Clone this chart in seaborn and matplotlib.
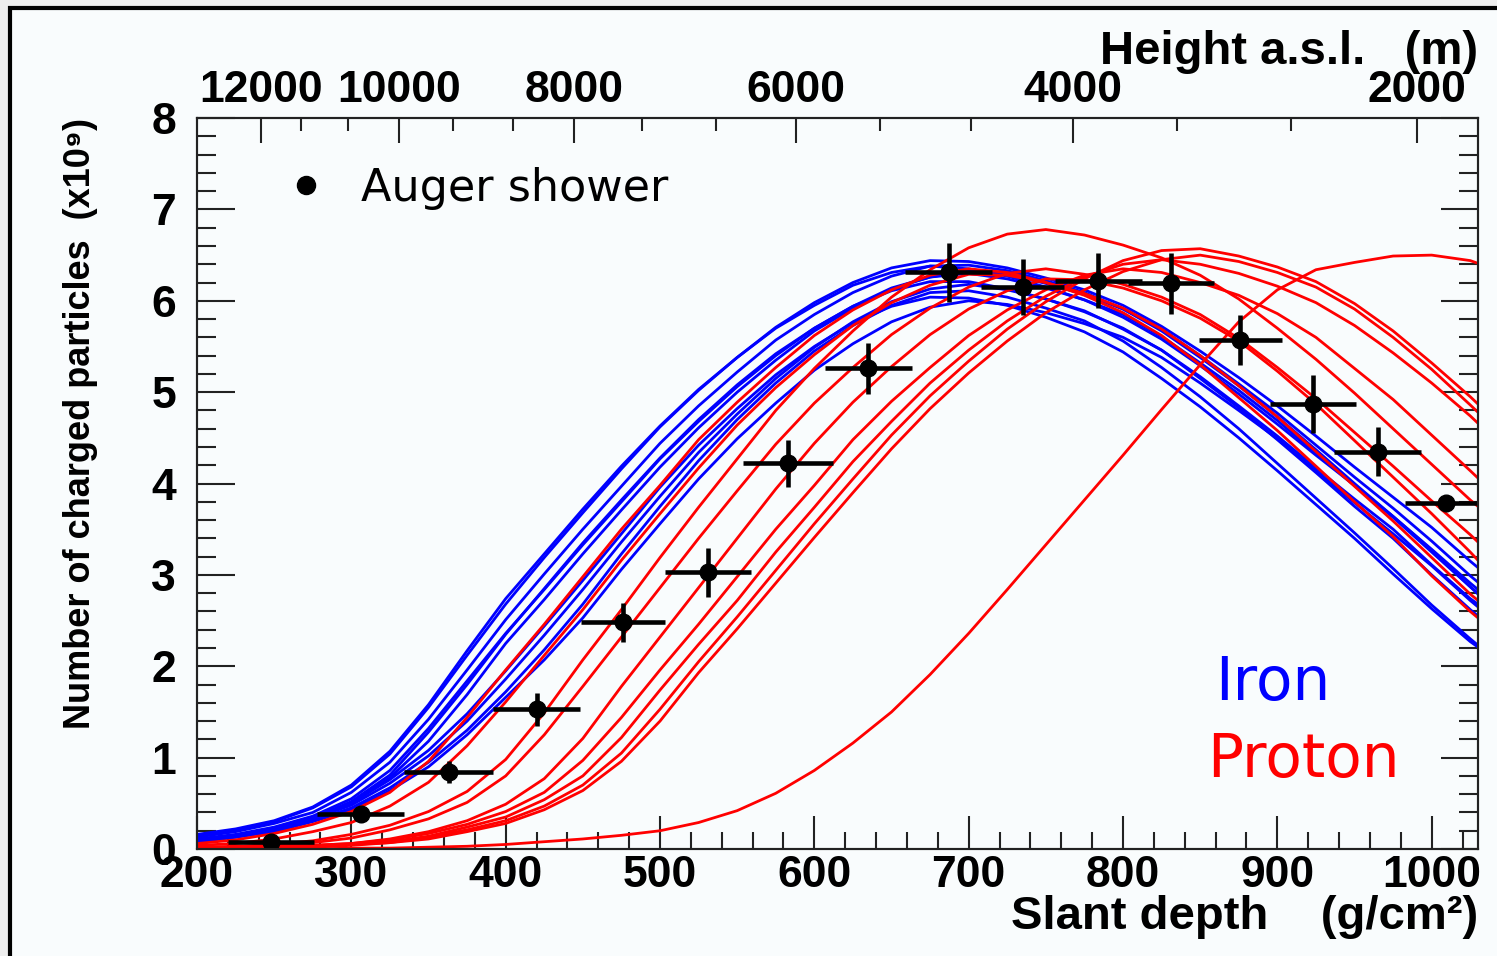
import numpy as np
import pandas as pd
import seaborn as sb
import matplotlib.pyplot as plt
from matplotlib.lines import Line2D
from matplotlib.patches import Rectangle
from matplotlib.ticker import MultipleLocator, FixedLocator

# slant depth grid (g/cm2) where the shower profiles were read
depth = [200, 225, 250, 275, 300, 325, 350, 375, 400, 425, 450, 475, 500, 525, 550, 575, 600, 625,
         650, 675, 700, 725, 750, 775, 800, 825, 850, 875, 900, 925, 950, 975, 1000, 1025, 1030]

# iron showers, number of charged particles (x1e9)
fe01 = [0.15, 0.21, 0.30, 0.45, 0.68, 1.04, 1.55, 2.12, 2.68, 3.19, 3.68, 4.16, 4.62, 5.02, 5.38, 5.71, 5.98, 6.20,
        6.36, 6.44, 6.43, 6.36, 6.25, 6.12, 5.95, 5.72, 5.45, 5.16, 4.85, 4.52, 4.18, 3.85, 3.52, 3.15, 3.08]
fe02 = [0.13, 0.19, 0.28, 0.40, 0.62, 0.95, 1.42, 1.96, 2.51, 3.01, 3.50, 3.97, 4.44, 4.85, 5.22, 5.57, 5.85, 6.09,
        6.27, 6.38, 6.39, 6.33, 6.22, 6.09, 5.91, 5.69, 5.40, 5.09, 4.77, 4.42, 4.07, 3.73, 3.37, 2.99, 2.92]
fe03 = [0.11, 0.16, 0.24, 0.36, 0.55, 0.86, 1.32, 1.84, 2.36, 2.84, 3.33, 3.80, 4.27, 4.68, 5.06, 5.40, 5.70, 5.94,
        6.14, 6.26, 6.30, 6.24, 6.14, 6.01, 5.85, 5.61, 5.32, 5.02, 4.69, 4.33, 3.98, 3.63, 3.25, 2.87, 2.80]
fe04 = [0.16, 0.22, 0.31, 0.46, 0.70, 1.07, 1.58, 2.17, 2.74, 3.23, 3.72, 4.19, 4.63, 5.03, 5.38, 5.70, 5.95, 6.17,
        6.31, 6.38, 6.35, 6.27, 6.15, 6.01, 5.82, 5.58, 5.29, 4.98, 4.65, 4.31, 3.98, 3.64, 3.28, 2.91, 2.84]
fe05 = [0.10, 0.15, 0.22, 0.34, 0.52, 0.81, 1.28, 1.80, 2.35, 2.85, 3.35, 3.82, 4.28, 4.70, 5.08, 5.42, 5.70, 5.94,
        6.11, 6.21, 6.21, 6.13, 6.02, 5.89, 5.69, 5.46, 5.17, 4.85, 4.52, 4.17, 3.83, 3.50, 3.11, 2.74, 2.68]
fe06 = [0.10, 0.15, 0.22, 0.33, 0.50, 0.78, 1.18, 1.69, 2.25, 2.73, 3.23, 3.71, 4.18, 4.61, 5.00, 5.35, 5.67, 5.92,
        6.13, 6.26, 6.33, 6.29, 6.19, 6.07, 5.91, 5.67, 5.38, 5.07, 4.73, 4.37, 4.00, 3.64, 3.27, 2.87, 2.79]
fe07 = [0.08, 0.13, 0.20, 0.31, 0.45, 0.67, 0.95, 1.30, 1.72, 2.18, 2.68, 3.23, 3.75, 4.25, 4.70, 5.10, 5.45, 5.73,
        5.95, 6.09, 6.11, 6.04, 5.92, 5.78, 5.56, 5.27, 4.95, 4.60, 4.22, 3.84, 3.46, 3.07, 2.67, 2.30, 2.23]
fe08 = [0.09, 0.14, 0.22, 0.34, 0.50, 0.76, 1.08, 1.48, 1.95, 2.44, 2.94, 3.45, 3.96, 4.42, 4.82, 5.19, 5.50, 5.76,
        5.94, 6.04, 6.03, 5.95, 5.82, 5.66, 5.44, 5.15, 4.84, 4.50, 4.14, 3.77, 3.40, 3.01, 2.63, 2.27, 2.21]
fe09 = [0.09, 0.14, 0.21, 0.33, 0.48, 0.72, 1.02, 1.40, 1.86, 2.34, 2.84, 3.36, 3.86, 4.34, 4.76, 5.15, 5.49, 5.77,
        5.99, 6.13, 6.18, 6.12, 6.02, 5.88, 5.70, 5.46, 5.15, 4.83, 4.48, 4.12, 3.75, 3.40, 3.00, 2.62, 2.55]
fe10 = [0.08, 0.13, 0.19, 0.30, 0.43, 0.64, 0.90, 1.25, 1.66, 2.07, 2.53, 3.06, 3.56, 4.05, 4.49, 4.88, 5.24, 5.53,
        5.77, 5.93, 6.00, 5.96, 5.87, 5.75, 5.60, 5.38, 5.10, 4.80, 4.49, 4.14, 3.79, 3.45, 3.10, 2.72, 2.65]

# proton showers
p01 = [0.06, 0.10, 0.17, 0.27, 0.41, 0.62, 0.96, 1.44, 1.96, 2.46, 2.98, 3.50, 3.98, 4.48, 4.89, 5.27, 5.62, 5.90,
       6.12, 6.28, 6.35, 6.31, 6.20, 6.06, 5.87, 5.62, 5.30, 4.94, 4.58, 4.19, 3.80, 3.42, 2.99, 2.60, 2.53]
p02 = [0.04, 0.06, 0.11, 0.19, 0.29, 0.47, 0.73, 1.13, 1.61, 2.12, 2.62, 3.16, 3.67, 4.17, 4.64, 5.05, 5.41, 5.73,
       5.98, 6.17, 6.29, 6.28, 6.20, 6.08, 5.92, 5.69, 5.40, 5.07, 4.73, 4.35, 3.97, 3.59, 3.19, 2.79, 2.72]
p03 = [0.02, 0.03, 0.05, 0.09, 0.16, 0.26, 0.41, 0.63, 0.98, 1.49, 2.07, 2.62, 3.19, 3.74, 4.27, 4.80, 5.26, 5.67,
       6.04, 6.34, 6.58, 6.73, 6.78, 6.72, 6.61, 6.47, 6.28, 6.02, 5.70, 5.36, 4.99, 4.60, 4.21, 3.82, 3.75]
p04 = [0.01, 0.02, 0.04, 0.07, 0.12, 0.21, 0.33, 0.51, 0.80, 1.25, 1.78, 2.32, 2.86, 3.40, 3.92, 4.43, 4.88, 5.27,
       5.63, 5.92, 6.15, 6.30, 6.35, 6.29, 6.18, 6.04, 5.85, 5.59, 5.27, 4.93, 4.56, 4.19, 3.81, 3.44, 3.36]
p05 = [0.01, 0.01, 0.02, 0.04, 0.06, 0.11, 0.19, 0.31, 0.49, 0.77, 1.21, 1.78, 2.32, 2.86, 3.40, 3.94, 4.44, 4.89,
       5.28, 5.63, 5.91, 6.11, 6.24, 6.23, 6.14, 6.00, 5.81, 5.56, 5.23, 4.87, 4.47, 4.07, 3.67, 3.25, 3.16]
p06 = [0.01, 0.01, 0.02, 0.04, 0.06, 0.10, 0.17, 0.27, 0.41, 0.62, 0.97, 1.44, 1.96, 2.46, 2.98, 3.50, 3.98, 4.48,
       4.90, 5.27, 5.62, 5.90, 6.12, 6.28, 6.35, 6.31, 6.20, 6.06, 5.86, 5.60, 5.26, 4.92, 4.53, 4.14, 4.06]
p07 = [0.01, 0.01, 0.02, 0.03, 0.05, 0.08, 0.14, 0.24, 0.35, 0.54, 0.80, 1.22, 1.74, 2.24, 2.72, 3.25, 3.74, 4.24,
       4.68, 5.10, 5.46, 5.78, 6.05, 6.26, 6.40, 6.45, 6.40, 6.30, 6.16, 5.98, 5.73, 5.43, 5.10, 4.74, 4.66]
p08 = [0.01, 0.01, 0.01, 0.03, 0.05, 0.07, 0.13, 0.21, 0.31, 0.47, 0.70, 1.05, 1.53, 2.05, 2.54, 3.05, 3.56, 4.05,
       4.53, 4.96, 5.34, 5.69, 5.99, 6.24, 6.44, 6.55, 6.57, 6.49, 6.37, 6.21, 5.97, 5.67, 5.32, 4.95, 4.87]
p09 = [0.00, 0.00, 0.01, 0.02, 0.04, 0.07, 0.11, 0.19, 0.28, 0.43, 0.64, 0.96, 1.40, 1.93, 2.41, 2.91, 3.41, 3.90,
       4.38, 4.82, 5.21, 5.56, 5.87, 6.12, 6.32, 6.45, 6.50, 6.43, 6.31, 6.15, 5.91, 5.60, 5.25, 4.86, 4.78]
p10 = [0.00, 0.00, 0.00, 0.00, 0.01, 0.01, 0.02, 0.03, 0.05, 0.08, 0.11, 0.15, 0.20, 0.29, 0.42, 0.61, 0.86, 1.16,
       1.50, 1.91, 2.36, 2.84, 3.33, 3.82, 4.31, 4.81, 5.30, 5.77, 6.12, 6.34, 6.42, 6.49, 6.50, 6.44, 6.41]

iron = {'fe01': fe01, 'fe02': fe02, 'fe03': fe03, 'fe04': fe04, 'fe05': fe05,
        'fe06': fe06, 'fe07': fe07, 'fe08': fe08, 'fe09': fe09, 'fe10': fe10}
proton = {'p01': p01, 'p02': p02, 'p03': p03, 'p04': p04, 'p05': p05,
          'p06': p06, 'p07': p07, 'p08': p08, 'p09': p09, 'p10': p10}

# Auger shower measurement
auger_x = [248, 306, 363, 420, 476, 531, 583, 635, 687, 735, 784, 831, 876, 923, 965, 1009]
auger_y = [0.08, 0.38, 0.84, 1.53, 2.48, 3.03, 4.22, 5.26, 6.31, 6.15, 6.22, 6.19, 5.57, 4.87, 4.35, 3.79]
auger_xerr = [28, 28, 29, 28, 27, 28, 29, 28, 28, 27, 28, 28, 27, 28, 28, 26]
auger_yerr = [0.04, 0.08, 0.12, 0.18, 0.21, 0.27, 0.26, 0.28, 0.32, 0.31, 0.30, 0.33, 0.27, 0.32, 0.27, 0.06]

# height a.s.l. scale on top (positions in slant depth)
height_labels = ['12000', '10000', '8000', '6000', '4000', '2000']
height_depth = [241.4, 330.7, 444.4, 588.3, 767.3, 990.3]
height_minor = [267.4, 297.9, 366.0, 404.9, 488.5, 536.5, 642.8, 701.8, 835.3, 908.6]

rows = []
for species, curves in (('Iron', iron), ('Proton', proton)):
    for name, vals in curves.items():
        assert len(vals) == len(depth), name
        for d, n in zip(depth, vals):
            rows.append((species, name, d, n))
df = pd.DataFrame(rows, columns=['species', 'shower', 'depth', 'N'])

sb.set_style('ticks')
plt.rcParams['font.family'] = ['Liberation Sans', 'DejaVu Sans']
plt.rcParams['font.weight'] = 'bold'
plt.rcParams['text.color'] = 'black'
plt.rcParams['axes.labelcolor'] = 'black'
plt.rcParams['axes.labelweight'] = 'bold'

bg = '#f9fcfd'
fig = plt.figure(figsize=(14.97, 9.56), dpi=100, facecolor='#eeeeee')
frame = Rectangle((10 / 1497, -0.1), 1.2, 1.1 - 8 / 956, transform=fig.transFigure,
                  facecolor=bg, edgecolor='black', lw=3, zorder=-10)
fig.patches.append(frame)

ax = fig.add_axes([0.1316, 0.1119, 0.8557, 0.7646])
ax.set_facecolor(bg)

sb.lineplot(data=df, x='depth', y='N', hue='species', units='shower', estimator=None, sort=False,
            palette={'Iron': '#0000ff', 'Proton': '#ff0000'}, lw=2.0, legend=False, ax=ax)

ax.errorbar(auger_x, auger_y, xerr=auger_xerr, yerr=auger_yerr, fmt='o', color='black',
            ms=12, elinewidth=3.3, capsize=0, zorder=5)

h = Line2D([], [], ls='none', marker='o', color='black', ms=13)
ax.legend([h], ['Auger shower'], loc='center left', bbox_to_anchor=(0.071, 0.904), frameon=False,
          handlelength=0.8, handletextpad=0.85, borderpad=0, borderaxespad=0,
          prop={'family': 'DejaVu Sans', 'size': 32, 'weight': 'normal'})

ax.text(0.7947, 0.2038, 'Iron', transform=ax.transAxes, color='#0000ff', fontsize=43,
        family='DejaVu Sans', weight='normal')
ax.text(0.7885, 0.0985, 'Proton', transform=ax.transAxes, color='#ff0000', fontsize=43,
        family='DejaVu Sans', weight='normal')

ax.set_xlim(200, 1030)
ax.set_ylim(0, 8)
ax.xaxis.set_major_locator(MultipleLocator(100))
ax.xaxis.set_minor_locator(MultipleLocator(20))
ax.yaxis.set_major_locator(MultipleLocator(1))
ax.yaxis.set_minor_locator(MultipleLocator(0.2))
ax.tick_params(which='both', direction='in', top=False, right=True, width=1.5, color='#222222',
               labelcolor='black')
ax.tick_params(axis='x', which='major', length=24, pad=4, labelsize=32)
ax.tick_params(axis='x', which='minor', length=12)
ax.tick_params(axis='y', which='major', length=27, pad=15, labelsize=32)
ax.tick_params(axis='y', which='minor', length=14)
for s in ax.spines.values():
    s.set_linewidth(1.5)
    s.set_color('#222222')

ax.set_xlabel('Slant depth    (g/cm²)', fontsize=34, fontweight='bold', loc='right')
ax.xaxis.set_label_coords(1.0, -0.063)
ax.set_ylabel('Number of charged particles  (x10⁹)', fontsize=26, fontweight='bold', loc='top')
ax.yaxis.set_label_coords(-0.077, 1.0)

ax2 = ax.twiny()
ax2.set_xlim(ax.get_xlim())
ax2.xaxis.set_major_locator(FixedLocator(height_depth))
ax2.xaxis.set_minor_locator(FixedLocator(height_minor))
ax2.set_xticklabels(height_labels)
ax2.tick_params(axis='x', which='major', direction='in', length=18, width=1.5, pad=5,
                labelsize=32, color='#222222', labelcolor='black')
ax2.tick_params(axis='x', which='minor', direction='in', length=9.5, width=1.5, color='#222222')
for s in ax2.spines.values():
    s.set_linewidth(1.5)
    s.set_color('#222222')
ax2.set_xlabel('Height a.s.l.   (m)', fontsize=34, fontweight='bold', loc='right')
ax2.xaxis.set_label_coords(1.0, 1.074)

plt.savefig('out.png', dpi=100, facecolor=fig.get_facecolor())
